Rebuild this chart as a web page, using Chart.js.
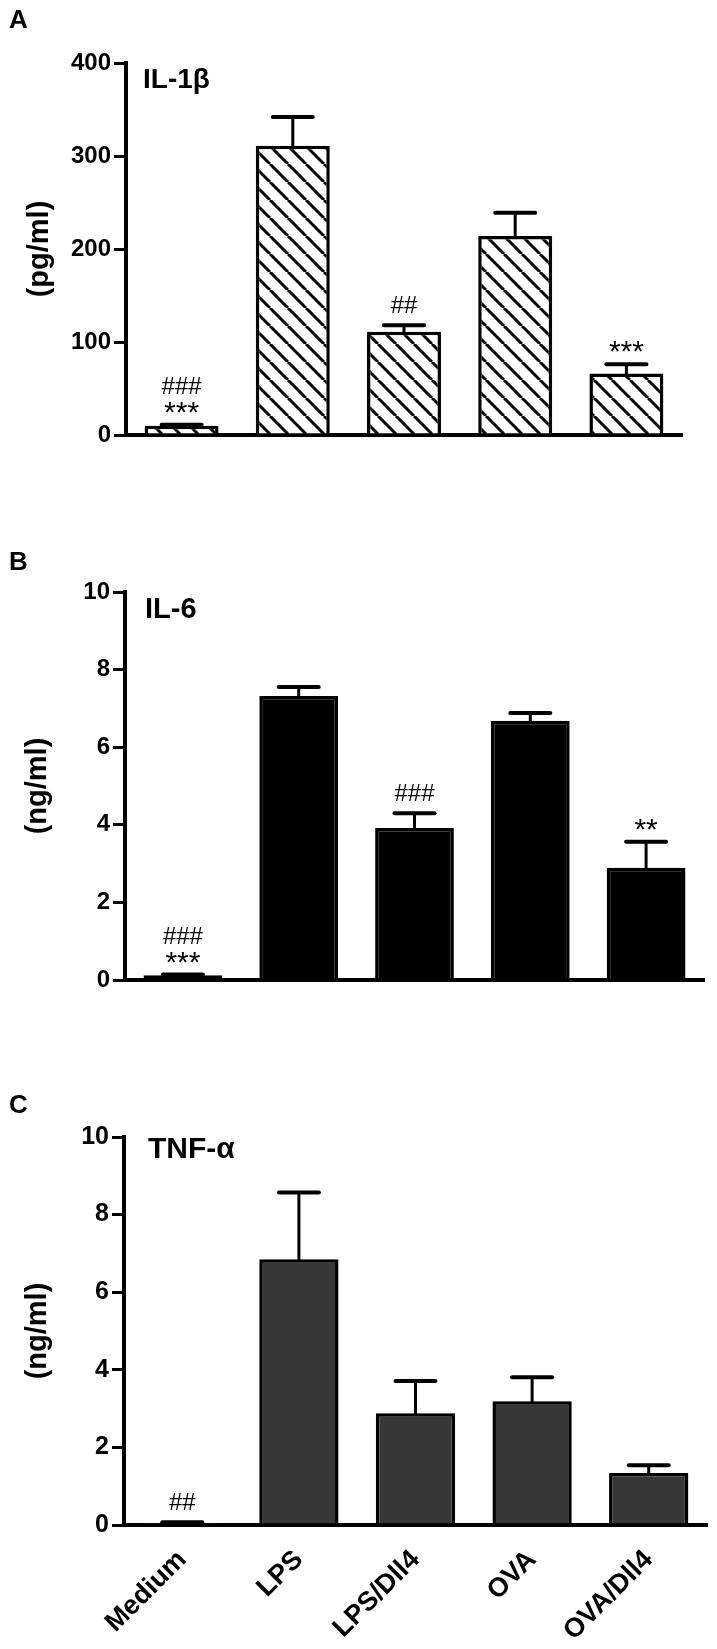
<!DOCTYPE html>
<html>
<head>
<meta charset="utf-8">
<script src="https://cdn.jsdelivr.net/npm/chart.js@4.4.0/dist/chart.umd.min.js"></script>
<style>
  html, body { margin: 0; padding: 0; background: #fff; }
  body { width: 717px; height: 1649px; position: relative; overflow: hidden; }
  .panel { position: absolute; left: 0; width: 717px; }
</style>
</head>
<body>
<div class="panel" style="top:2px;height:463px"><canvas id="chartA"></canvas></div>
<div class="panel" style="top:530px;height:480px"><canvas id="chartB"></canvas></div>
<div class="panel" style="top:1060px;height:589px"><canvas id="chartC"></canvas></div>
<script>
const categories = ["Medium", "LPS", "LPS/Dll4", "OVA", "OVA/Dll4"];

// IL-1beta, pg/ml
const il1bValues = [10, 311, 111, 214, 66];
const il1bErrors = [1, 31, 7, 25, 10];
const il1bMarks = [["###", "***"], [], ["##"], [], ["***"]];
const il1bTicks = [0, 100, 200, 300, 400];

// IL-6, ng/ml
const il6Values = [0.12, 7.32, 3.92, 6.68, 2.89];
const il6Errors = [0.02, 0.23, 0.38, 0.2, 0.67];
const il6Marks = [["###", "***"], [], ["###"], [], ["**"]];
const il6Ticks = [0, 2, 4, 6, 8, 10];

// TNF-alpha, ng/ml
const tnfValues = [0.05, 6.85, 2.88, 3.19, 1.34];
const tnfErrors = [0.02, 1.72, 0.83, 0.62, 0.2];
const tnfMarks = [["##"], [], [], [], []];
const tnfTicks = [0, 2, 4, 6, 8, 10];

const FONT = '"Liberation Sans", Arial, Helvetica, sans-serif';
Chart.defaults.font.family = FONT;
Chart.defaults.color = "#000";

function hatchPattern() {
  const s = 18;
  const c = document.createElement("canvas");
  c.width = s;
  c.height = s;
  const g = c.getContext("2d");
  g.fillStyle = "#fff";
  g.fillRect(0, 0, s, s);
  g.strokeStyle = "#000";
  g.lineWidth = 3;
  g.beginPath();
  for (const off of [-s, 0, s]) {
    g.moveTo(off, 0);
    g.lineTo(off + s, s);
  }
  g.stroke();
  return g.createPattern(c, "repeat");
}

// error bars, significance marks, panel letter and inner title
const panelDecor = {
  id: "panelDecor",
  afterDatasetsDraw(chart, args, opts) {
    const ctx = chart.ctx;
    const y = chart.scales.y;
    const meta = chart.getDatasetMeta(0);
    ctx.save();
    ctx.strokeStyle = "#000";
    ctx.fillStyle = "#000";
    ctx.lineCap = "round";
    meta.data.forEach((bar, i) => {
      const top = y.getPixelForValue(opts.values[i] + opts.errors[i]);
      ctx.lineWidth = 3;
      ctx.beginPath();
      ctx.moveTo(bar.x, bar.y);
      ctx.lineTo(bar.x, top);
      ctx.stroke();
      ctx.lineWidth = 4;
      ctx.beginPath();
      ctx.moveTo(bar.x - 20, top);
      ctx.lineTo(bar.x + 20, top);
      ctx.stroke();

      let bottom = top - 12;
      const lines = opts.marks[i].slice().reverse();
      ctx.textAlign = "center";
      ctx.textBaseline = "alphabetic";
      lines.forEach(txt => {
        ctx.font = (txt.includes("*") ? "30px " : "24px ") + FONT;
        const m = ctx.measureText(txt);
        const base = bottom - m.actualBoundingBoxDescent;
        ctx.fillText(txt, bar.x, base);
        bottom = base - m.actualBoundingBoxAscent - 8;
      });
    });

    ctx.textAlign = "left";
    ctx.textBaseline = "alphabetic";
    ctx.font = "bold 26px " + FONT;
    ctx.fillText(opts.letter, 9, opts.letterY);
    ctx.font = "bold " + opts.titleSize + "px " + FONT;
    ctx.fillText(opts.title, opts.titleX, opts.titleY);
    ctx.restore();
  }
};

function makeChart(id, cfg) {
  const ticks = cfg.ticks;
  return new Chart(document.getElementById(id), {
    type: "bar",
    data: {
      labels: categories,
      datasets: [
        {
          data: cfg.values,
          backgroundColor: cfg.fill,
          borderColor: "#000",
          borderWidth: 3.5,
          barPercentage: cfg.barPct,
          categoryPercentage: 1,
        },
      ],
    },
    options: {
      responsive: true,
      maintainAspectRatio: false,
      animation: false,
      layout: {
        padding: { top: cfg.padTop, right: cfg.padRight, bottom: cfg.padBottom, left: 0 },
      },
      plugins: {
        legend: { display: false },
        tooltip: { enabled: false },
        panelDecor: {
          values: cfg.values,
          errors: cfg.errors,
          marks: cfg.marks,
          letter: cfg.letter,
          letterY: cfg.letterY,
          title: cfg.title,
          titleX: cfg.titleX,
          titleY: cfg.titleY,
          titleSize: cfg.titleSize,
        },
      },
      scales: {
        x: {
          grid: { display: true, drawOnChartArea: false, drawTicks: false },
          border: { display: true, color: "#000", width: 4 },
          ticks: cfg.showLabels
            ? {
                display: true,
                autoSkip: false,
                minRotation: 45,
                maxRotation: 45,
                padding: 19,
                color: "#000",
                font: { size: 27, weight: "bold" },
              }
            : { display: false },
          afterFit: s => { s.height = cfg.xHeight; },
        },
        y: {
          min: ticks[0],
          max: ticks[ticks.length - 1],
          ticks: {
            stepSize: ticks[1] - ticks[0],
            color: "#000",
            padding: 3,
            font: { size: cfg.tickSize, weight: "bold" },
          },
          grid: { drawOnChartArea: false, drawTicks: true, tickLength: 12, lineWidth: 3, color: "#000" },
          border: { display: true, color: "#000", width: 4 },
          title: {
            display: true,
            text: cfg.unit,
            color: "#000",
            font: { size: 29, weight: "bold" },
            padding: { top: cfg.unitPad, bottom: 0 },
          },
          afterFit: s => { s.width = cfg.axisLeft; },
        },
      },
    },
    plugins: [panelDecor],
  });
}

makeChart("chartA", {
  values: il1bValues, errors: il1bErrors, marks: il1bMarks, ticks: il1bTicks,
  fill: hatchPattern(), barPct: 0.665, unit: "(pg/ml)", unitPad: 23,
  padTop: 61, padRight: 35, padBottom: 30, xHeight: 0, axisLeft: 126,
  showLabels: false, tickSize: 24,
  letter: "A", letterY: 26, title: "IL-1β", titleX: 143, titleY: 86, titleSize: 28,
});

makeChart("chartB", {
  values: il6Values, errors: il6Errors, marks: il6Marks, ticks: il6Ticks,
  fill: "#000", barPct: 0.68, unit: "(ng/ml)", unitPad: 21,
  padTop: 62, padRight: 13, padBottom: 30, xHeight: 0, axisLeft: 125,
  showLabels: false, tickSize: 24,
  letter: "B", letterY: 40, title: "IL-6", titleX: 145, titleY: 88, titleSize: 29,
});

makeChart("chartC", {
  values: tnfValues, errors: tnfErrors, marks: tnfMarks, ticks: tnfTicks,
  fill: "#373737", barPct: 0.68, unit: "(ng/ml)", unitPad: 21,
  padTop: 77, padRight: 10, padBottom: 0, xHeight: 124, axisLeft: 124,
  showLabels: true, tickSize: 25,
  letter: "C", letterY: 53, title: "TNF-α", titleX: 148, titleY: 98, titleSize: 30,
});
</script>
</body>
</html>
